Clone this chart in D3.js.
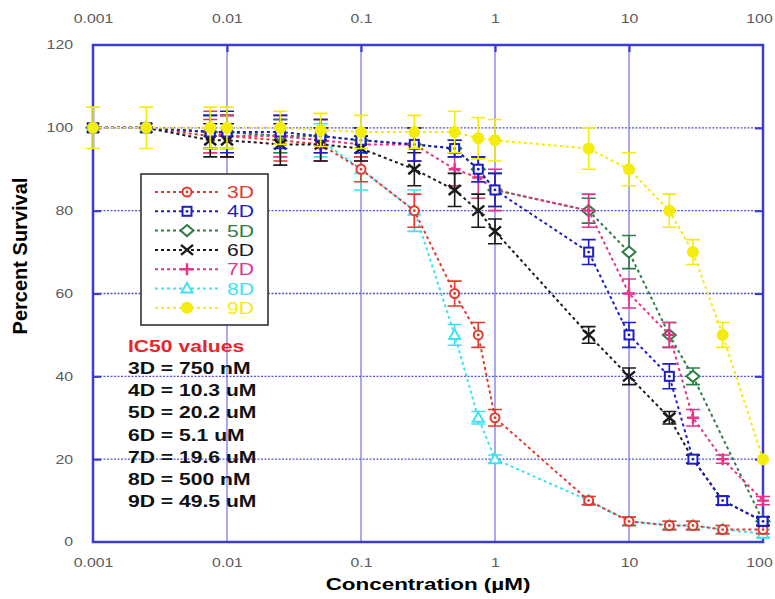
<!DOCTYPE html>
<html>
<head>
<meta charset="utf-8">
<script src="https://cdn.jsdelivr.net/npm/d3@7"></script>
<style>
  body { margin: 0; background: #fff; }
  svg text { font-family: "Liberation Sans", Arial, sans-serif; }
</style>
</head>
<body>
<div id="chart"></div>
<script>
// concentrations (uM) used by the assay
const concentrations = [0.001, 0.0025, 0.0075, 0.01, 0.025, 0.05, 0.1, 0.25, 0.5, 0.75, 1, 5, 10, 20, 30, 50, 100];

// percent survival per compound, with error bars (null = no point)
const survival3D = [100, 100, 98, 98, 97, 96, 90, 80, 60, 50, 30, 10, 5, 4, 4, 3, 3];
const error3D    = [0, 0, 4, 5, 5, 4, 3, 4, 3, 3, 2, 1, 1, 1, 1, 1, 1];
const survival4D = [100, 100, 99, 99, 99, 98, 97, 96, 95, 90, 85, 70, 50, 40, 20, 10, 5];
const error4D    = [0, 0, 4, 5, 4, 4, 3, 4, 2, 3, 4, 3, 3, 3, 1, 1, 1];
const survival5D = [100, 100, 99, 99, 98, 98, 97, 96, 95, 90, 85, 80, 70, 50, 40, null, 5];
const error5D    = [0, 0, 4, 4, 4, 4, 3, 4, 2, 3, 4, 3, 4, 3, 2, 0, 1];
const survival6D = [100, 100, 97, 97, 96, 96, 95, 90, 85, 80, 75, 50, 40, 30, 20, 10, 5];
const error6D    = [0, 0, 4, 4, 5, 4, 3, 4, 4, 4, 3, 2, 2, 1.5, 1, 1, 1];
const survival7D = [100, 100, 99, 98, 98, 97, 96, 96, 90, 88, 85, 80, 60, 50, 30, 20, 10];
const error7D    = [0, 0, 5, 5, 5, 5, 4, 4, 4, 5, 5, 4, 3.5, 3, 2, 1, 1];
const survival8D = [100, 100, 99, 99, 98, 97, 90, 80, 50, 30, 20, 10, 5, 4, 4, 3, 2];
const error8D    = [0, 0, 4, 4, 4, 4, 5, 5, 2.5, 1.5, 1, 1, 1, 1, 1, 1, 1];
const survival9D = [100, 100, 100, 100, 100, 99.5, 99, 99, 99, 97.5, 97, 95, 90, 80, 70, 50, 20];
const error9D    = [5, 5, 5, 5, 4, 4, 4, 4, 5, 5, 5, 5, 4, 4, 3, 3, 0];

const seriesNames = ['3D', '4D', '5D', '6D', '7D', '8D', '9D'];
const ic50Title = 'IC50 values';
const ic50Lines = ['3D = 750 nM', '4D = 10.3 uM', '5D = 20.2 uM', '6D = 5.1 uM', '7D = 19.6 uM', '8D = 500 nM', '9D = 49.5 uM'];
const xTicks = [0.001, 0.01, 0.1, 1, 10, 100];
const yTicks = [0, 20, 40, 60, 80, 100, 120];
const yGrid = [20, 40, 60, 80, 100];
const xGrid = [0.01, 0.1, 1, 10];

const seriesData = {
  '3D': { values: survival3D, errors: error3D },
  '4D': { values: survival4D, errors: error4D },
  '5D': { values: survival5D, errors: error5D },
  '6D': { values: survival6D, errors: error6D },
  '7D': { values: survival7D, errors: error7D },
  '8D': { values: survival8D, errors: error8D },
  '9D': { values: survival9D, errors: error9D }
};

const colors = {
  '3D': '#e33a2e', '4D': '#1e1ec8', '5D': '#2e7d44', '6D': '#1a1a1a',
  '7D': '#e8338b', '8D': '#3fe2f2', '9D': '#f3ec0c'
};
const shapes = {
  '3D': 'circle', '4D': 'square', '5D': 'diamond', '6D': 'x',
  '7D': 'plus', '8D': 'triangle', '9D': 'dot'
};
const drawOrder = ['8D', '3D', '5D', '7D', '6D', '4D', '9D'];

// image looks horizontally stretched; text gets the same stretch
const sx = 1.32;

const width = 775, height = 599;
const margin = { top: 45, right: 12, bottom: 57, left: 93 };

const svg = d3.select('#chart').append('svg')
  .attr('width', width)
  .attr('height', height);

const x = d3.scaleLog().domain([0.001, 100]).range([margin.left, width - margin.right]);
const y = d3.scaleLinear().domain([0, 120]).range([height - margin.bottom, margin.top]);

// -------------------
// Grid
svg.append('g').selectAll('line')
  .data(xGrid)
  .enter().append('line')
  .attr('x1', d => x(d)).attr('x2', d => x(d))
  .attr('y1', y(120)).attr('y2', y(0))
  .attr('stroke', '#8c8cea')
  .attr('stroke-width', 1.5);

svg.append('g').selectAll('line')
  .data(yGrid)
  .enter().append('line')
  .attr('x1', x(0.001)).attr('x2', x(100))
  .attr('y1', d => y(d)).attr('y2', d => y(d))
  .attr('stroke', '#5252dc')
  .attr('stroke-width', 1.3)
  .attr('stroke-dasharray', '2,1.5');

// -------------------
// Axes
const fmt = d => d.toString();

const axisL = svg.append('g')
  .attr('transform', `translate(${margin.left},0)`)
  .call(d3.axisLeft(y).tickValues(yTicks).tickSize(-8).tickPadding(20));
const axisR = svg.append('g')
  .attr('transform', `translate(${width - margin.right},0)`)
  .call(d3.axisRight(y).tickValues(yGrid).tickSize(-8).tickFormat(''));
const axisT = svg.append('g')
  .attr('transform', `translate(0,${margin.top})`)
  .call(d3.axisTop(x).tickValues(xTicks).tickFormat(fmt).tickSize(-7).tickPadding(22));
const axisB = svg.append('g')
  .attr('transform', `translate(0,${height - margin.bottom})`)
  .call(d3.axisBottom(x).tickValues(xTicks).tickFormat(fmt).tickSize(0).tickPadding(16));

[axisL, axisR, axisT, axisB].forEach(g => {
  g.select('.domain').remove();
  g.selectAll('line').attr('stroke', '#3c3cd0').attr('stroke-width', 2.2);
  g.selectAll('text')
    .attr('fill', '#5a5a5a')
    .style('font-size', '12px');
});
axisL.selectAll('line').filter(d => d === 0 || d === 120).remove();
axisL.selectAll('text').attr('x', -20 / sx).attr('transform', `scale(${sx},1)`);
axisT.selectAll('line').filter(d => d === 0.001 || d === 100).remove();
// the last label sits at the right edge of the window; keep it inside
[axisT, axisB].forEach(g => {
  g.selectAll('text')
    .attr('transform', `scale(${sx},1)`)
    .attr('x', d => d === 100 ? -4 / sx : 0);
});

svg.append('rect')
  .attr('x', x(0.001)).attr('y', y(120))
  .attr('width', x(100) - x(0.001))
  .attr('height', y(0) - y(120))
  .attr('fill', 'none')
  .attr('stroke', '#3c3cd0')
  .attr('stroke-width', 2.5);

// axis titles
svg.append('text')
  .attr('transform', `translate(${(x(0.001) + x(100)) / 2},590) scale(${sx},1)`)
  .attr('text-anchor', 'middle')
  .style('font-size', '17px')
  .style('font-weight', 'bold')
  .text('Concentration (\u00b5M)');

svg.append('text')
  .attr('transform', 'translate(27,256) rotate(-90)')
  .attr('text-anchor', 'middle')
  .style('font-size', '20px')
  .style('font-weight', 'bold')
  .text('Percent Survival');

// -------------------
// Markers
function drawMarker(g, shape, color, cx, cy) {
  if (shape === 'circle') {
    g.append('circle').attr('cx', cx).attr('cy', cy).attr('r', 4.5)
      .attr('fill', '#fff').attr('stroke', color).attr('stroke-width', 2);
    g.append('circle').attr('cx', cx).attr('cy', cy).attr('r', 1.4).attr('fill', color);
  } else if (shape === 'square') {
    g.append('rect').attr('x', cx - 4.5).attr('y', cy - 4.5).attr('width', 9).attr('height', 9)
      .attr('fill', '#fff').attr('stroke', color).attr('stroke-width', 2);
    g.append('circle').attr('cx', cx).attr('cy', cy).attr('r', 1.4).attr('fill', color);
  } else if (shape === 'diamond') {
    g.append('path').attr('d', `M${cx},${cy - 5.5}L${cx + 6.5},${cy}L${cx},${cy + 5.5}L${cx - 6.5},${cy}Z`)
      .attr('fill', '#fff').attr('stroke', color).attr('stroke-width', 2);
  } else if (shape === 'x') {
    g.append('path').attr('d', `M${cx - 6},${cy - 5}L${cx + 6},${cy + 5}M${cx - 6},${cy + 5}L${cx + 6},${cy - 5}`)
      .attr('stroke', color).attr('stroke-width', 2.4);
  } else if (shape === 'plus') {
    g.append('path').attr('d', `M${cx - 6},${cy}L${cx + 6},${cy}M${cx},${cy - 6}L${cx},${cy + 6}`)
      .attr('stroke', color).attr('stroke-width', 2.4);
  } else if (shape === 'triangle') {
    g.append('path').attr('d', `M${cx},${cy - 5.5}L${cx + 5.5},${cy + 4}L${cx - 5.5},${cy + 4}Z`)
      .attr('fill', '#fff').attr('stroke', color).attr('stroke-width', 2);
  } else {
    g.append('circle').attr('cx', cx).attr('cy', cy).attr('r', 6).attr('fill', color);
  }
}

// -------------------
// Series
const line = d3.line()
  .defined(d => d.v != null)
  .x(d => x(d.c))
  .y(d => y(d.v));

const plot = svg.append('g');

drawOrder.forEach(name => {
  const color = colors[name];
  const pts = concentrations.map((c, i) => ({
    c: c, v: seriesData[name].values[i], e: seriesData[name].errors[i]
  }));
  const g = plot.append('g');

  g.append('path')
    .datum(pts.filter(d => d.v != null))
    .attr('d', line)
    .attr('fill', 'none')
    .attr('stroke', color)
    .attr('stroke-width', 2)
    .attr('stroke-dasharray', '3,3');

  pts.filter(d => d.v != null && d.e > 0).forEach(d => {
    const cx = x(d.c);
    g.append('path')
      .attr('d', `M${cx},${y(d.v - d.e)}L${cx},${y(d.v + d.e)}` +
        `M${cx - 7},${y(d.v - d.e)}L${cx + 7},${y(d.v - d.e)}` +
        `M${cx - 7},${y(d.v + d.e)}L${cx + 7},${y(d.v + d.e)}`)
      .attr('stroke', color)
      .attr('stroke-width', 1.6)
      .attr('fill', 'none');
  });

  pts.filter(d => d.v != null).forEach(d => {
    drawMarker(g, shapes[name], color, x(d.c), y(d.v));
  });
});

// -------------------
// Legend
const legend = svg.append('g');
legend.append('rect')
  .attr('x', 141).attr('y', 174)
  .attr('width', 127).attr('height', 151)
  .attr('fill', '#fff')
  .attr('stroke', '#333')
  .attr('stroke-width', 1.6);

seriesNames.forEach((name, i) => {
  const ly = 192 + i * 19.3;
  legend.append('line')
    .attr('x1', 155).attr('x2', 218)
    .attr('y1', ly).attr('y2', ly)
    .attr('stroke', colors[name])
    .attr('stroke-width', 2)
    .attr('stroke-dasharray', '3,3');
  drawMarker(legend, shapes[name], colors[name], 187, ly);
  legend.append('text')
    .attr('transform', `translate(227,${ly + 6}) scale(${sx},1)`)
    .attr('fill', colors[name])
    .style('font-size', '16px')
    .text(name);
});

// -------------------
// IC50 annotation
const notes = svg.append('g')
  .style('font-family', '"DejaVu Sans", sans-serif')
  .style('font-weight', 'bold')
  .style('font-size', '16px');

notes.append('text')
  .attr('transform', `translate(128,352) scale(${sx},1)`)
  .attr('fill', '#e8262a')
  .text(ic50Title);

ic50Lines.forEach((t, i) => {
  notes.append('text')
    .attr('transform', `translate(128,${374 + i * 22.2}) scale(${sx},1)`)
    .attr('fill', '#111')
    .text(t);
});
</script>
</body>
</html>
